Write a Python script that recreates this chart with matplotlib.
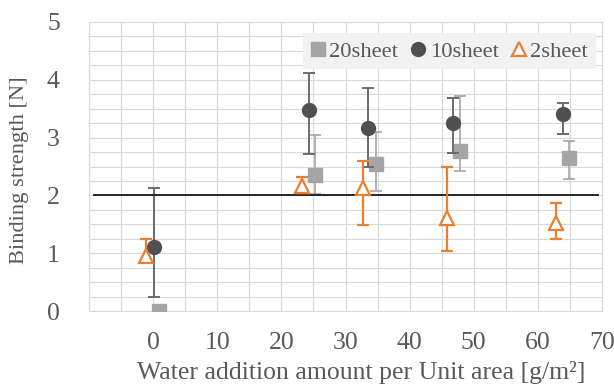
import matplotlib
matplotlib.use("Agg")
import matplotlib.pyplot as plt
from matplotlib.ticker import MultipleLocator
from matplotlib.lines import Line2D

plt.rcParams['font.family'] = ['Liberation Serif', 'DejaVu Serif']

# ---- data ----
series_names = ["20sheet", "10sheet", "2sheet"]

x20 = [0.9, 25.2, 34.7, 47.8, 64.9]
y20 = [0.0, 2.35, 2.54, 2.77, 2.64]
y20_low = [0.0, 2.02, 2.08, 2.42, 2.28]
y20_high = [0.0, 3.04, 3.10, 3.72, 2.94]

x10 = [0.15, 24.3, 33.5, 46.8, 63.9]
y10 = [1.10, 3.47, 3.17, 3.25, 3.40]
y10_low = [0.25, 2.72, 2.49, 2.74, 3.06]
y10_high = [2.13, 4.11, 3.85, 3.68, 3.59]

x2 = [-1.1, 23.2, 32.7, 45.8, 62.9]
y2 = [0.95, 2.16, 2.13, 1.61, 1.53]
y2_low = [0.84, 2.04, 1.49, 1.04, 1.25]
y2_high = [1.25, 2.32, 2.60, 2.50, 1.87]

threshold_x = [-9.2, 69.3]
threshold_y = [2.0, 2.0]

x_ticks = [0, 10, 20, 30, 40, 50, 60, 70]
y_ticks = [0, 1, 2, 3, 4, 5]

TXT = "#595959"
GRID = "#D9D9D9"

fig = plt.figure(figsize=(6.14, 3.87), dpi=100)
ax = fig.add_axes([89/614, 1-311/387, (602-89)/614, (311-22)/387])

def err(y, lo, hi):
    return [[a - b for a, b in zip(y, lo)], [b - a for a, b in zip(y, hi)]]

ax.errorbar(x20, y20, yerr=err(y20, y20_low, y20_high), fmt='s', ms=9.5,
            color='#A5A5A5', mec='#A5A5A5', ecolor='#A5A5A5', elinewidth=1.2,
            capsize=4, capthick=1.2, zorder=3)
ax.errorbar(x10, y10, yerr=err(y10, y10_low, y10_high), fmt='o', ms=10,
            color='#505050', mec='#505050', ecolor='#6B6B6B', elinewidth=1.4,
            capsize=4, capthick=1.4, zorder=4)
ax.plot(threshold_x, threshold_y, color='#262626', lw=1.4, zorder=5)
ax.errorbar(x2, y2, yerr=err(y2, y2_low, y2_high), fmt='^', ms=10,
            mfc='white', mec='#ED7D31', mew=1.6, ecolor='#ED7D31',
            elinewidth=1.6, capsize=4, capthick=1.6, zorder=6)

ax.set_xlim(-10, 70)
ax.set_ylim(0, 5)
ax.set_xticks(x_ticks)
ax.set_yticks(y_ticks)
ax.xaxis.set_minor_locator(MultipleLocator(5))
ax.yaxis.set_minor_locator(MultipleLocator(0.25))
ax.grid(True, which='both', color=GRID, lw=0.8)
ax.set_axisbelow(True)
ax.tick_params(which='both', length=0)
ax.tick_params(axis='y', pad=21, labelsize=18.5, labelcolor=TXT)
ax.tick_params(axis='x', pad=15, labelsize=18.5, labelcolor=TXT)
for s in ax.spines.values():
    s.set_color(GRID)
    s.set_linewidth(0.8)

ax.set_xlabel("Water addition amount per Unit area [g/m²]", fontsize=18.5,
              color=TXT)
ax.xaxis.set_label_coords(0.53, -0.172)
ax.set_ylabel("Binding strength [N]", fontsize=16.2, color=TXT)
ax.yaxis.set_label_coords(-0.117, 0.488)

handles = [
    Line2D([], [], marker='s', ls='none', ms=9.5, color='#A5A5A5'),
    Line2D([], [], marker='o', ls='none', ms=10, color='#505050'),
    Line2D([], [], marker='^', ls='none', ms=10, mfc='white', mec='#ED7D31', mew=1.6),
]
leg = ax.legend(handles, series_names, loc='upper right', bbox_to_anchor=(0.988, 0.962),
                ncol=3, fontsize=16.2, frameon=True, fancybox=False,
                handlelength=0.6, handletextpad=0.2, columnspacing=0.6,
                borderpad=0.35, borderaxespad=0)
leg.get_frame().set_facecolor('#F2F2F2')
leg.get_frame().set_edgecolor('none')
leg.get_frame().set_alpha(1)
for t in leg.get_texts():
    t.set_color(TXT)

fig.savefig("out.png", dpi=100)
